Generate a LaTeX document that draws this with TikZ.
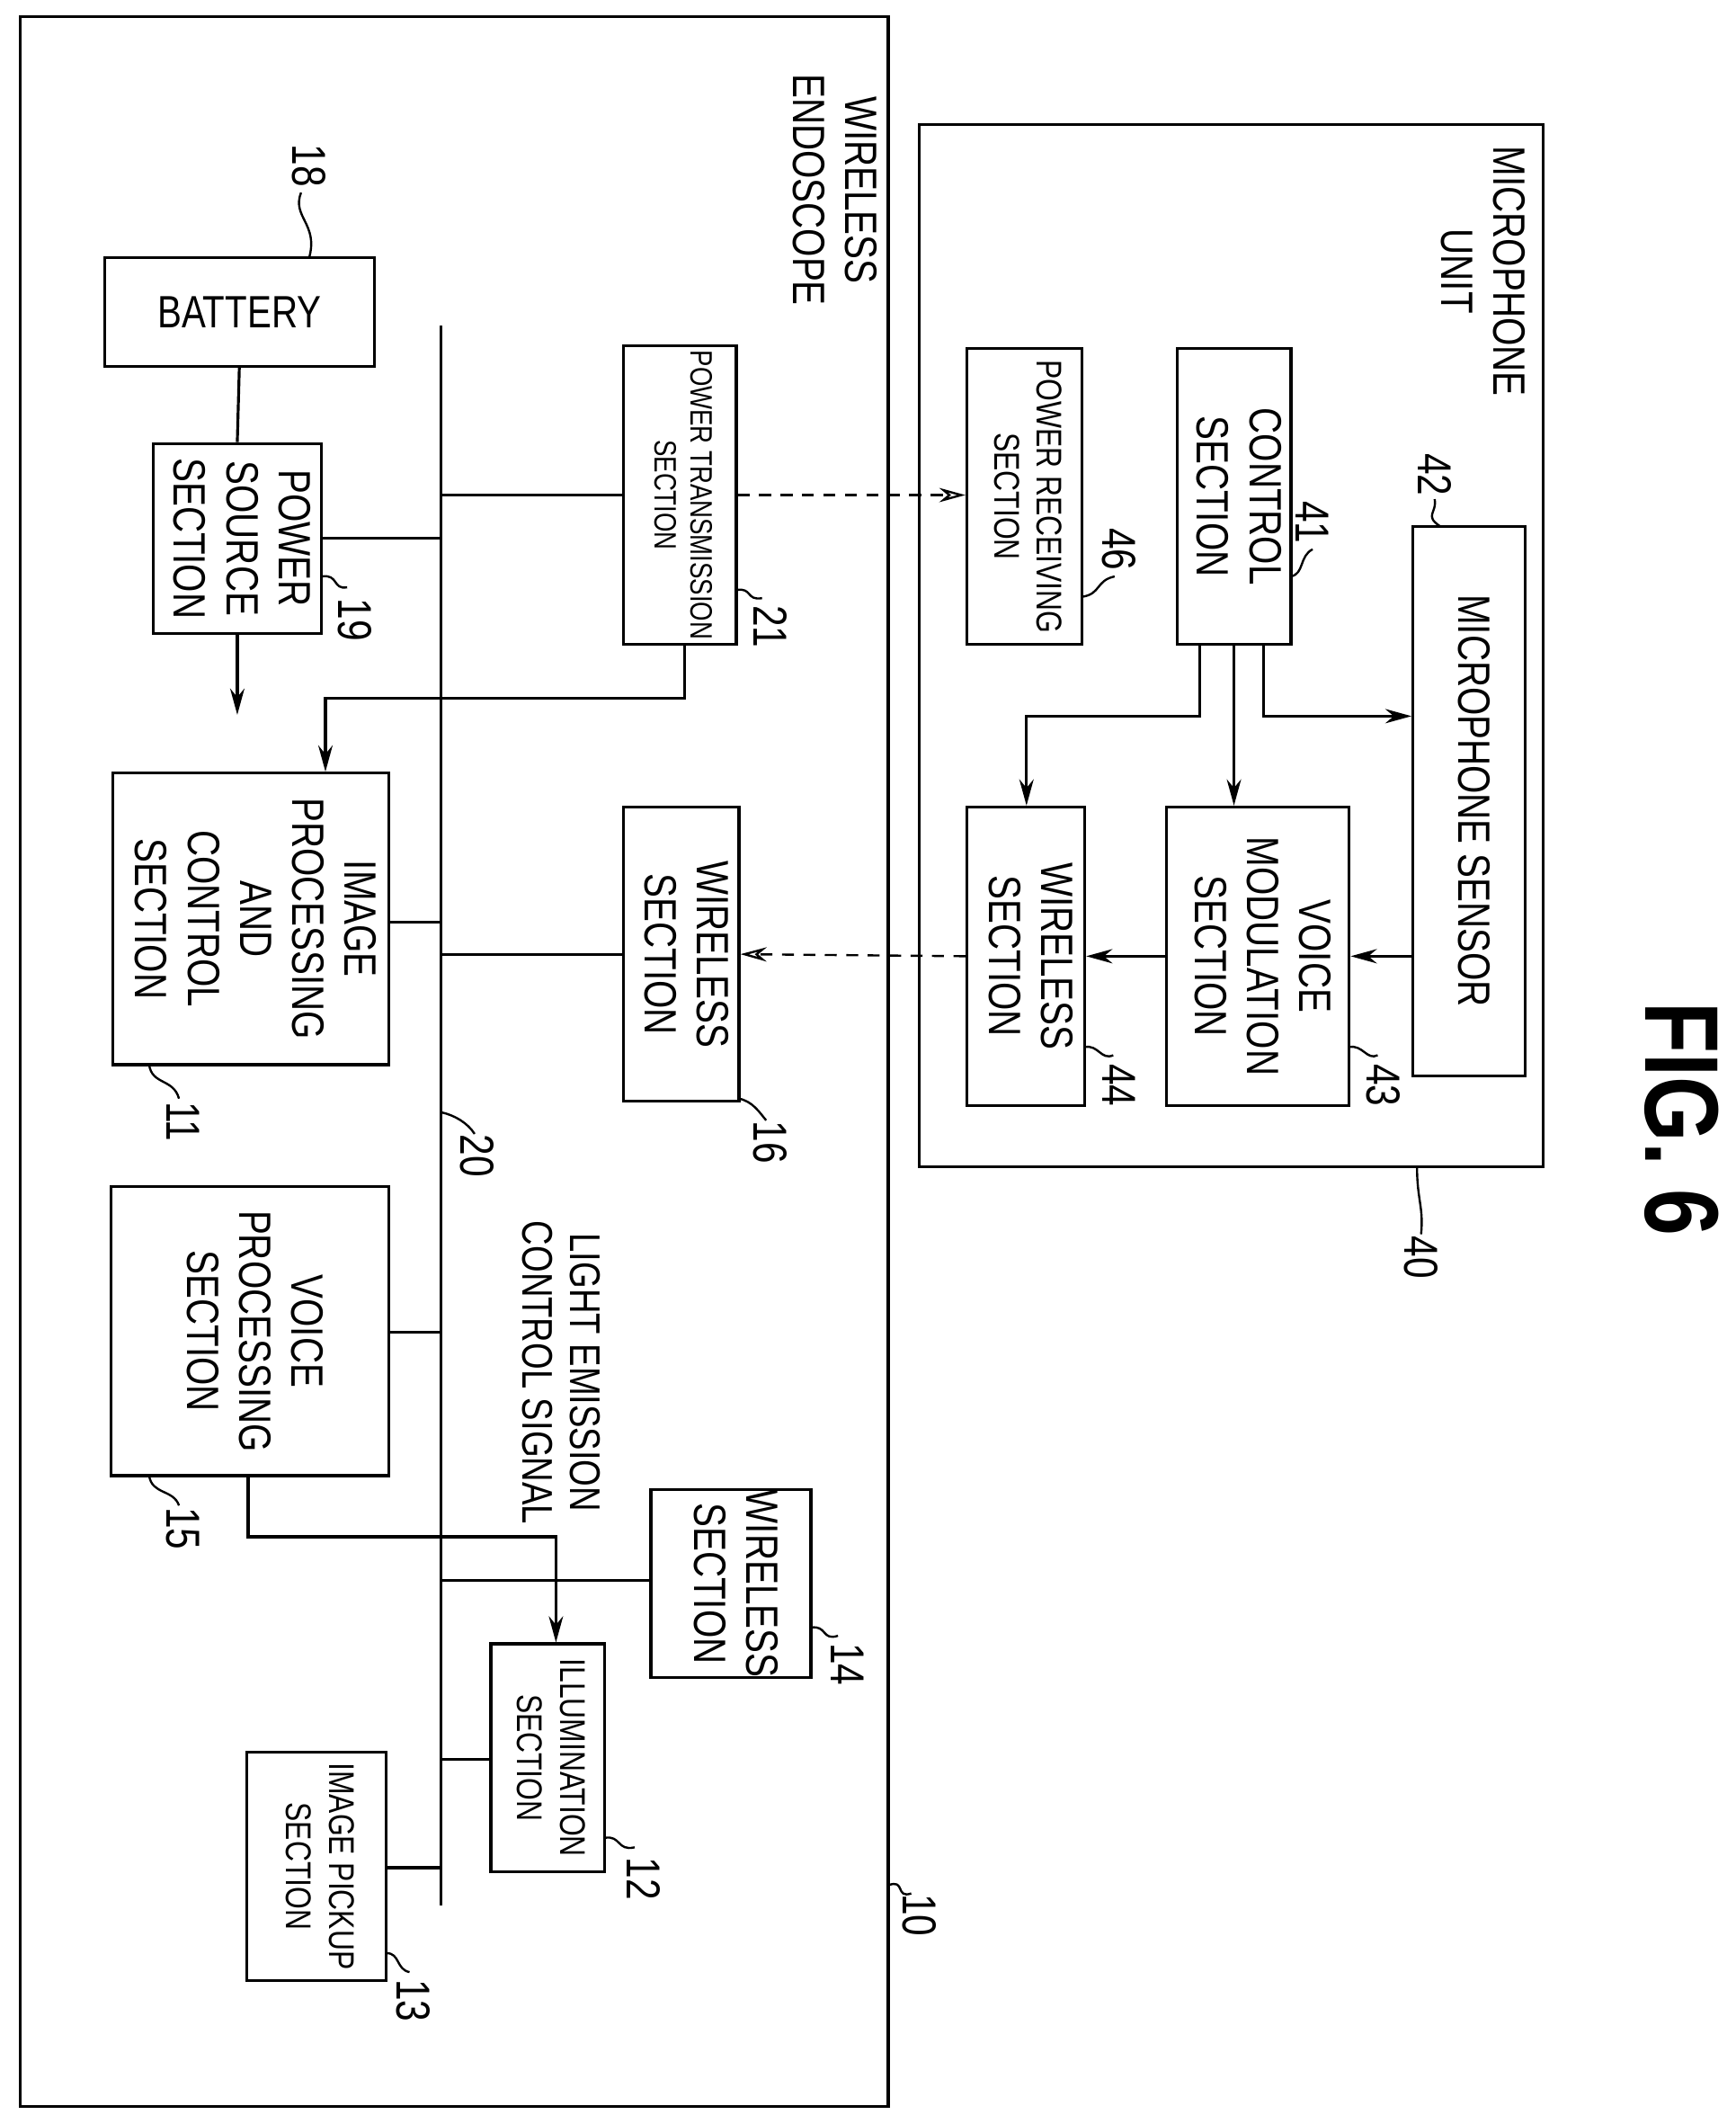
\documentclass[tikz,border=0pt]{standalone}
\usepackage{fontspec}
\setmainfont[FakeStretch=0.8]{Liberation Sans}
\usetikzlibrary{arrows.meta}
\newcommand{\rt}[1]{\rotatebox{-90}{\begin{tabular}{@{}c@{}}#1\end{tabular}}}
\newcommand{\bx}[6]{\node[box,minimum width={(#4-#2)*0.02cm},minimum height={(#5-#3)*0.02cm}] (#1) at ({(#2+#4)/2},{(#3+#5)/2}) {#6};}
\begin{document}
\begin{tikzpicture}[x=0.02cm,y=-0.02cm,
  box/.style={draw,line width=1.2pt,inner sep=0pt,font=\fontsize{19}{22}\selectfont},
  lbl/.style={font=\fontsize{20}{22}\selectfont,rotate=-90,inner sep=1pt},
  ln/.style={line width=1.2pt},
  arr/.style={ln,-{Stealth[length=11pt,width=6pt]}},
  dsh/.style={line width=0.9pt,dash pattern=on 5pt off 4pt,-{Stealth[length=11pt,width=6pt,open]}},
  ld/.style={line width=0.9pt}]
\useasboundingbox (0,0) rectangle (1280,1566);
% outer boxes
\bx{endo}{15}{12}{655}{1553}{}
\bx{mic}{678}{92}{1138}{860}{}
\node[font=\fontsize{19}{22}\selectfont] (tEndo) at (612,140) {\rt{WIRELESS\\ENDOSCOPE}};
\node[font=\fontsize{19}{22}\selectfont] (tMic) at (1090,200) {\rt{MICROPHONE\\UNIT}};
\node[font=\bfseries\fontsize{44}{48}\selectfont,rotate=-90] (fig) at (1240,825) {FIG. 6};
% endoscope blocks
\bx{bat}{77}{190}{276}{270}{BATTERY}
\bx{ps}{113}{327}{237}{467}{\rt{POWER\\SOURCE\\SECTION}}
\bx{pt}{460}{255}{543}{475}{\fontsize{13}{15}\selectfont\rt{POWER TRANSMISSION\\SECTION}}
\bx{ipc}{83}{570}{287}{785}{\rt{IMAGE\\PROCESSING\\AND\\CONTROL\\SECTION}}
\bx{wl16}{460}{595}{545}{812}{\rt{WIRELESS\\SECTION}}
\bx{vp}{82}{875}{287}{1088}{\rt{VOICE\\PROCESSING\\SECTION}}
\bx{wl14}{480}{1098}{598}{1237}{\rt{WIRELESS\\SECTION}}
\bx{ill}{362}{1212}{446}{1380}{\fontsize{15}{18}\selectfont\rt{ILLUMINATION\\SECTION}}
\bx{ip}{182}{1292}{285}{1460}{\fontsize{15}{18}\selectfont\rt{IMAGE PICKUP\\SECTION}}
% microphone blocks
\bx{pr}{713}{257}{798}{475}{\fontsize{15}{18}\selectfont\rt{POWER RECEIVING\\SECTION}}
\bx{ctl}{868}{257}{952}{475}{\rt{CONTROL\\SECTION}}
\bx{ms}{1042}{388}{1125}{793}{\rt{MICROPHONE SENSOR}}
\bx{vm}{860}{595}{995}{815}{\rt{VOICE\\MODULATION\\SECTION}}
\bx{wl44}{713}{595}{800}{815}{\rt{WIRELESS\\SECTION}}
\node[font=\fontsize{18}{20}\selectfont] (les) at (410,1012) {\rt{LIGHT EMISSION\\CONTROL SIGNAL}};
% bus
\coordinate (busT) at (325,240);
\coordinate (busB) at (325,1405);
\draw[ln] (busT) -- (busB);
% connections
\draw[ln] (bat.south) -- (ps.north);
\coordinate (psOut) at (175,527);
\draw[arr] (ps.south) -- (psOut);
\draw[ln] (ps.east) -- (ps.east -| busT);
\draw[ln] (pt.west |- 0,365) -- (busT |- 0,365);
\draw[dsh] (pt.east |- 0,365) -- (pr.west |- 0,365);
\draw[arr] (pt.south -| 505,0) -- (505,515) -- (240,515) -- (ipc.north -| 240,0);
\draw[ln] (ipc.east |- 0,680) -- (busT |- 0,680);
\draw[ln] (wl16.west) -- (wl16.west -| busT);
\draw[dsh] (wl44.west) -- (wl16.east);
\draw[ln] (vp.east |- 0,982) -- (busT |- 0,982);
\draw[arr] (vp.south -| 183,0) -- (183,1133) -- (410,1133) -- (ill.north -| 410,0);
\draw[ln] (wl14.west |- 0,1165) -- (busT |- 0,1165);
\draw[ln] (ill.west |- 0,1297) -- (busT |- 0,1297);
\draw[ln] (ip.east |- 0,1377) -- (busT |- 0,1377);
\draw[arr] (ctl.south -| 932,0) -- (932,528) -- (ms.west |- 0,528);
\draw[arr] (ctl.south -| 910,0) -- (vm.north -| 910,0);
\draw[arr] (ctl.south -| 885,0) -- (885,528) -- (757,528) -- (wl44.north -| 757,0);
\draw[arr] (ms.west |- 0,705) -- (vm.east |- 0,705);
\draw[arr] (vm.west |- 0,705) -- (wl44.east |- 0,705);
% labels with leaders
\node[lbl] (n10) at (678,1412) {10}; \draw[ld] (655,1390) .. controls (668,1385) and (660,1400) .. (672,1396);
\node[lbl] (n18) at (228,122) {18}; \draw[ld] (222,142) .. controls (215,160) and (235,165) .. (228,190);
\node[lbl] (n19) at (262,457) {19}; \draw[ld] (237,425) .. controls (250,423) and (245,435) .. (256,433);
\node[lbl] (n21) at (568,462) {21}; \draw[ld] (543,435) .. controls (555,433) and (550,443) .. (562,441);
\node[lbl] (n11) at (135,827) {11}; \draw[ld] (110,785) .. controls (112,800) and (128,795) .. (132,810);
\node[lbl] (n16) at (568,842) {16}; \draw[ld] (545,810) .. controls (555,812) and (560,820) .. (565,826);
\node[lbl] (n20) at (352,852) {20}; \draw[ld] (325,820) .. controls (335,822) and (345,828) .. (350,836);
\node[lbl] (n15) at (135,1127) {15}; \draw[ld] (110,1088) .. controls (112,1102) and (128,1098) .. (132,1110);
\node[lbl] (n14) at (625,1227) {14}; \draw[ld] (598,1200) .. controls (610,1198) and (606,1210) .. (618,1206);
\node[lbl] (n12) at (475,1385) {12}; \draw[ld] (446,1355) .. controls (458,1353) and (455,1365) .. (468,1362);
\node[lbl] (n13) at (305,1475) {13}; \draw[ld] (285,1440) .. controls (295,1440) and (292,1452) .. (302,1454);
\node[lbl] (n40) at (1048,927) {40}; \draw[ld] (1045,860) .. controls (1045,885) and (1050,890) .. (1048,910);
\node[lbl] (n46) at (825,405) {46}; \draw[ld] (798,440) .. controls (812,438) and (808,428) .. (822,425);
\node[lbl] (n41) at (968,385) {41}; \draw[ld] (952,425) .. controls (962,423) and (958,410) .. (968,405);
\node[lbl] (n42) at (1058,350) {42}; \draw[ld] (1058,368) .. controls (1060,378) and (1050,380) .. (1062,388);
\node[lbl] (n43) at (1020,800) {43}; \draw[ld] (995,772) .. controls (1005,770) and (1008,782) .. (1016,778);
\node[lbl] (n44) at (825,800) {44}; \draw[ld] (800,772) .. controls (810,770) and (812,782) .. (821,778);
\end{tikzpicture}
\end{document}
